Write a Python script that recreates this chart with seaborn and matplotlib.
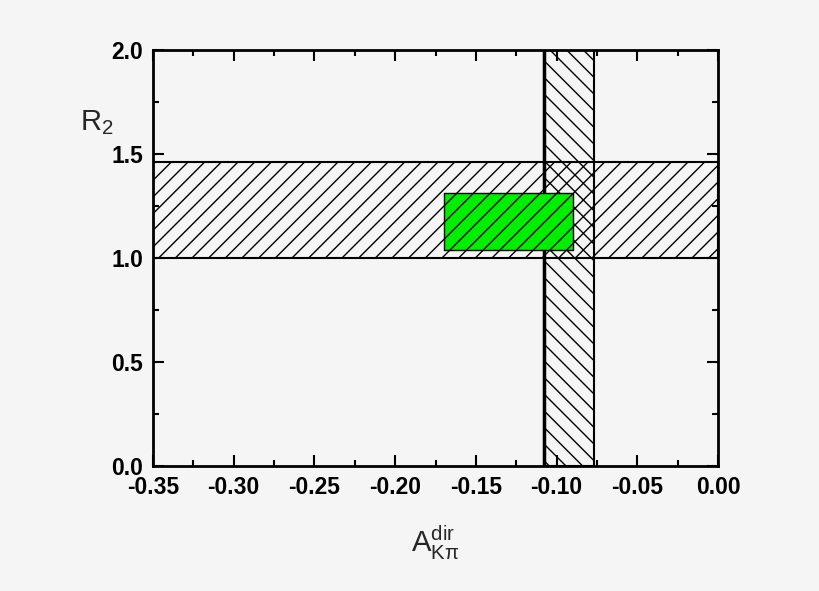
import matplotlib
matplotlib.use("Agg")
import matplotlib.pyplot as plt
import seaborn as sns

# allowed regions (x = A_Kpi^dir, y = R_2)
band_x = [-0.108, -0.077]      # vertical band
band_y = [1.00, 1.46]          # horizontal band
green_x = [-0.17, -0.09]       # overlap box
green_y = [1.04, 1.31]

x_ticks = [-0.35, -0.30, -0.25, -0.20, -0.15, -0.10, -0.05, 0.00]
y_ticks = [0.0, 0.5, 1.0, 1.5, 2.0]

sns.set_style("ticks")
plt.rcParams['font.family'] = ['Liberation Sans', 'DejaVu Sans']
plt.rcParams['mathtext.fontset'] = 'custom'
plt.rcParams['mathtext.rm'] = 'Liberation Sans'
plt.rcParams['mathtext.it'] = 'Liberation Sans'
plt.rcParams['hatch.linewidth'] = 1.0

bg = '#f5f5f5'
fig = plt.figure(figsize=(8.2, 5.91), dpi=100, facecolor=bg)
ax = fig.add_axes([0.1866, 0.2115, 0.689, 0.704])
ax.set_facecolor(bg)

# horizontal band
ax.fill_between([x_ticks[0], x_ticks[-1]], band_y[0], band_y[1],
                facecolor='none', edgecolor='black', hatch='//', linewidth=1.5)
# vertical band
ax.fill_betweenx([y_ticks[0], y_ticks[-1]], band_x[0], band_x[1],
                 facecolor='none', edgecolor='black', hatch='\\\\', linewidth=1.5)
ax.axvline(band_x[0], color='black', linewidth=2.5)
# green box
ax.fill_between(green_x, green_y[0], green_y[1],
                facecolor='#00ee00', edgecolor='black', hatch='//', linewidth=1.0, zorder=3)

ax.set_xlim(x_ticks[0], x_ticks[-1])
ax.set_ylim(y_ticks[0], y_ticks[-1])
ax.set_xticks(x_ticks)
ax.set_xticklabels([f"{v:.2f}" for v in x_ticks])
ax.set_yticks(y_ticks)
ax.set_yticklabels([f"{v:.1f}" for v in y_ticks])
ax.minorticks_on()
ax.set_xticks([v + 0.025 for v in x_ticks[:-1]], minor=True)
ax.set_yticks([v + 0.25 for v in y_ticks[:-1]], minor=True)

ax.tick_params(which='both', direction='in', top=True, right=True, width=1.5, colors='black')
ax.tick_params(which='major', length=8, labelsize=16.5, pad=7)
ax.tick_params(which='minor', length=4)
for lab in ax.get_xticklabels() + ax.get_yticklabels():
    lab.set_fontweight('bold')
for sp in ax.spines.values():
    sp.set_linewidth(2)
    sp.set_color('black')

ax.set_ylabel(r'R$_2$', fontsize=21, rotation=0)
ax.yaxis.set_label_coords(-0.1, 0.79)
ax.set_xlabel(r'A$^{\mathrm{dir}}_{\mathrm{K}\pi}$', fontsize=21, labelpad=18)

fig.savefig("out.png", dpi=100, facecolor=bg)
